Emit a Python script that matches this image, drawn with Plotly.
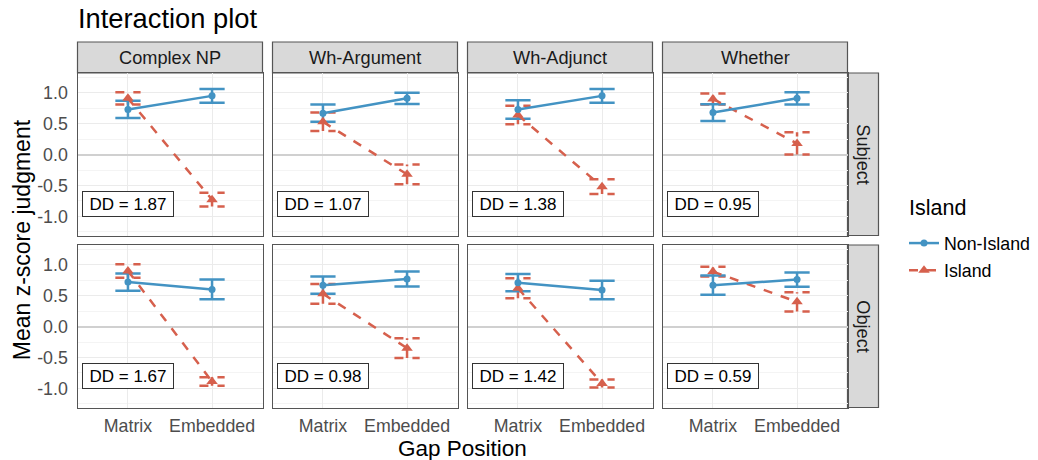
import plotly.graph_objects as go

W, H = 1038, 460

constructions = ["Complex NP", "Wh-Argument", "Wh-Adjunct", "Whether"]
gap_types = ["Subject", "Object"]
positions = ["Matrix", "Embedded"]
x_pos = [1, 2]

# Mean z-score judgments (order: Matrix, Embedded) per construction
non_island_mean = {
    "Subject": [[0.73, 0.95], [0.67, 0.91], [0.73, 0.95], [0.68, 0.91]],
    "Object":  [[0.72, 0.60], [0.67, 0.77], [0.71, 0.59], [0.67, 0.76]],
}
non_island_err = {
    "Subject": [[0.14, 0.11], [0.14, 0.09], [0.15, 0.11], [0.135, 0.10]],
    "Object":  [[0.14, 0.16], [0.14, 0.12], [0.14, 0.15], [0.155, 0.115]],
}
island_mean = {
    "Subject": [[0.91, -0.73], [0.53, -0.32], [0.64, -0.52], [0.90, 0.18]],
    "Object":  [[0.90, -0.89], [0.53, -0.35], [0.62, -0.92], [0.89, 0.40]],
}
island_err = {
    "Subject": [[0.10, 0.11], [0.15, 0.16], [0.15, 0.12], [0.09, 0.18]],
    "Object":  [[0.11, 0.07], [0.16, 0.16], [0.16, 0.065], [0.08, 0.155]],
}
dd_values = {
    "Subject": [1.87, 1.07, 1.38, 0.95],
    "Object":  [1.67, 0.98, 1.42, 0.59],
}
y_tickvals = [-1.0, -0.5, 0.0, 0.5, 1.0]
y_ticktext = ["-1.0", "-0.5", "0.0", "0.5", "1.0"]
y_minor = [-1.25, -0.75, -0.25, 0.25, 0.75, 1.25]

BLUE = "#4393C3"
RED = "#D6604D"
BORDER = "#555555"
STRIP_FILL = "#D9D9D9"
FONT = "Liberation Sans, Arial, sans-serif"

# layout geometry (pixels)
col_left = [77.5, 272.5, 467.5, 662.5]
col_w = 185.0
row_top = [73.0, 245.0]
row_h = 162.5
strip_h = 31.0
strip_w = 31.0


def px_x(p):
    return p / W


def px_y(p):
    return 1 - p / H


def errbar_xy(means, errs, hw=0.15):
    xs, ys = [], []
    for x, m, e in zip(x_pos, means, errs):
        lo, hi = m - e, m + e
        xs += [x - hw, x + hw, None, x, x, None, x - hw, x + hw, None]
        ys += [hi, hi, None, lo, hi, None, lo, lo, None]
    return xs, ys


fig = go.Figure()
shapes = []
annotations = []
layout_axes = {}

for r, gt in enumerate(gap_types):
    for c, cons in enumerate(constructions):
        k = r * 4 + c + 1
        xa = "x" if k == 1 else f"x{k}"
        ya = "y" if k == 1 else f"y{k}"
        xname = "xaxis" if k == 1 else f"xaxis{k}"
        yname = "yaxis" if k == 1 else f"yaxis{k}"

        # error bars (Island first, beneath)
        ex, ey = errbar_xy(island_mean[gt][c], island_err[gt][c])
        fig.add_trace(go.Scatter(x=ex, y=ey, mode="lines", xaxis=xa, yaxis=ya,
                                 line=dict(color=RED, width=2.5, dash="dash"),
                                 showlegend=False, hoverinfo="skip"))
        ex, ey = errbar_xy(non_island_mean[gt][c], non_island_err[gt][c])
        fig.add_trace(go.Scatter(x=ex, y=ey, mode="lines", xaxis=xa, yaxis=ya,
                                 line=dict(color=BLUE, width=2.5),
                                 showlegend=False, hoverinfo="skip"))
        # lines + points
        fig.add_trace(go.Scatter(x=x_pos, y=island_mean[gt][c], mode="lines+markers",
                                 xaxis=xa, yaxis=ya, name="Island",
                                 legendgroup="Island", legendrank=2,
                                 line=dict(color=RED, width=2.5, dash="dash"),
                                 marker=dict(symbol="triangle-up", size=10, color=RED),
                                 showlegend=(k == 1)))
        fig.add_trace(go.Scatter(x=x_pos, y=non_island_mean[gt][c], mode="lines+markers",
                                 xaxis=xa, yaxis=ya, name="Non-Island",
                                 legendgroup="Non-Island", legendrank=1,
                                 line=dict(color=BLUE, width=2.5),
                                 marker=dict(symbol="circle", size=7, color=BLUE),
                                 showlegend=(k == 1)))

        x0 = col_left[c]
        y0 = row_top[r]
        layout_axes[xname] = dict(
            domain=[px_x(x0), px_x(x0 + col_w)], anchor=ya,
            range=[0.4, 2.6], tickvals=x_pos, ticktext=positions,
            showticklabels=(r == 1), showgrid=True, gridcolor="#EBEBEB", gridwidth=1.2,
            zeroline=False, showline=True, mirror=True, linecolor=BORDER, linewidth=1.2,
            ticks="", ticklabelstandoff=2,
            tickfont=dict(size=17.8, color="#4D4D4D", family=FONT),
            fixedrange=True,
        )
        layout_axes[yname] = dict(
            domain=[px_y(y0 + row_h), px_y(y0)], anchor=xa,
            range=[-1.31, 1.32], tickvals=y_tickvals, ticktext=y_ticktext,
            showticklabels=(c == 0), showgrid=True, gridcolor="#EBEBEB", gridwidth=1.2,
            minor=dict(tickvals=y_minor, showgrid=True, gridcolor="#F4F4F4", gridwidth=0.7),
            zeroline=True, zerolinecolor="#D0D0D0", zerolinewidth=2.2,
            showline=True, mirror=True, linecolor=BORDER, linewidth=1.2,
            ticks="", ticklabelstandoff=5,
            tickfont=dict(size=17.8, color="#4D4D4D", family=FONT),
            fixedrange=True,
        )

        # DD label
        annotations.append(dict(
            x=1, y=-0.8, xref=xa, yref=ya, text=f"DD = {dd_values[gt][c]:.2f}",
            showarrow=False, font=dict(size=17, color="black", family=FONT),
            bgcolor="white", bordercolor="#333333", borderwidth=1, borderpad=3,
            width=84, height=18, xanchor="center", yanchor="middle",
        ))

# top strips
for c, cons in enumerate(constructions):
    x0 = col_left[c]
    shapes.append(dict(type="rect", xref="paper", yref="paper",
                       x0=px_x(x0), x1=px_x(x0 + col_w),
                       y0=px_y(row_top[0]), y1=px_y(row_top[0] - strip_h),
                       fillcolor=STRIP_FILL, line=dict(color=BORDER, width=1.2), layer="below"))
    annotations.append(dict(x=px_x(x0 + col_w / 2), y=px_y(row_top[0] - strip_h / 2),
                            xref="paper", yref="paper", text=cons, showarrow=False,
                            font=dict(size=18.2, color="#1A1A1A", family=FONT),
                            xanchor="center", yanchor="middle"))

# right strips
xr = col_left[3] + col_w
for r, gt in enumerate(gap_types):
    y0 = row_top[r]
    shapes.append(dict(type="rect", xref="paper", yref="paper",
                       x0=px_x(xr), x1=px_x(xr + strip_w),
                       y0=px_y(y0 + row_h), y1=px_y(y0),
                       fillcolor=STRIP_FILL, line=dict(color=BORDER, width=1.2), layer="below"))
    annotations.append(dict(x=px_x(xr + strip_w / 2), y=px_y(y0 + row_h / 2),
                            xref="paper", yref="paper", text=gt, showarrow=False,
                            textangle=90,
                            font=dict(size=18.2, color="#1A1A1A", family=FONT),
                            xanchor="center", yanchor="middle"))

# titles
annotations.append(dict(x=px_x(76), y=px_y(19), xref="paper", yref="paper",
                        text="Interaction plot", showarrow=False,
                        font=dict(size=27.3, color="black", family=FONT),
                        xanchor="left", yanchor="middle"))
annotations.append(dict(x=px_x((col_left[0] + col_left[3] + col_w) / 2), y=px_y(448.5),
                        xref="paper", yref="paper", text="Gap Position", showarrow=False,
                        font=dict(size=22.5, color="black", family=FONT),
                        xanchor="center", yanchor="middle"))
annotations.append(dict(x=px_x(22), y=px_y((row_top[0] + row_top[1] + row_h) / 2),
                        xref="paper", yref="paper", text="Mean z-score judgment",
                        showarrow=False, textangle=-90,
                        font=dict(size=23, color="black", family=FONT),
                        xanchor="center", yanchor="middle"))
# legend title
annotations.append(dict(x=px_x(907), y=px_y(208), xref="paper", yref="paper",
                        text="Island", showarrow=False,
                        font=dict(size=21.5, color="black", family=FONT),
                        xanchor="left", yanchor="middle"))

fig.update_layout(
    width=W, height=H,
    margin=dict(l=0, r=0, t=0, b=0),
    paper_bgcolor="white", plot_bgcolor="white",
    shapes=shapes, annotations=annotations,
    showlegend=True,
    legend=dict(
        x=px_x(904), y=px_y(225), xanchor="left", yanchor="top",
        font=dict(size=17.8, color="black", family=FONT),
        traceorder="grouped", tracegroupgap=1,
        bgcolor="rgba(0,0,0,0)",
    ),
    **layout_axes,
)

fig.write_html("out.html", config={"displayModeBar": False},
               post_script="document.body.style.margin='0';")
